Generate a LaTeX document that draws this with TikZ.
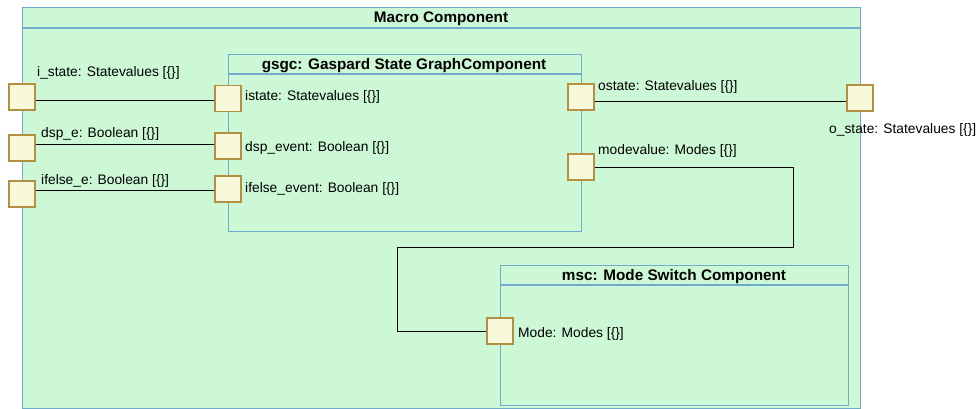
\documentclass[tikz,border=0pt]{standalone}
\usepackage{fontspec}
\setmainfont{Liberation Sans}
\usetikzlibrary{positioning}
\definecolor{compfill}{RGB}{204,248,214}
\definecolor{compdraw}{RGB}{112,170,204}
\definecolor{portfill}{RGB}{248,248,218}
\definecolor{portdraw}{RGB}{180,144,66}

\begin{document}
\begin{tikzpicture}[x=1pt,y=-1pt,
        comp/.style={draw=compdraw,fill=compfill,line width=1.1pt,anchor=north west,inner sep=0pt},
        head/.style={draw=compdraw,line width=1.1pt},
        title/.style={font=\fontsize{15.3}{18}\selectfont\bfseries,inner sep=0pt,anchor=base},
        port/.style={draw=portdraw,fill=portfill,line width=1.1pt,minimum size=26pt,inner sep=0pt},
        lbl/.style={font=\fontsize{13.8}{16}\selectfont,inner sep=0pt,anchor=base west},
        wire/.style={draw=black,line width=0.9pt}]

  \useasboundingbox (0,0) rectangle (979,409);

  \node[comp,minimum width=838,minimum height=401] (macro) at (22,7) {};
  \draw[head] (22,28) -- (860,28);
  \node[title] (macro title) at (441,23) {Macro Component};

  \node[comp,minimum width=353,minimum height=177] (gsgc) at (228,54) {};
  \draw[head] (228,74) -- (581,74);
  \node[title] (gsgc title) at (404,69.5) {gsgc: Gaspard State GraphComponent};

  \node[comp,minimum width=348,minimum height=140] (msc) at (500,265) {};
  \draw[head] (500,285) -- (848,285);
  \node[title] (msc title) at (674,280.5) {msc: Mode Switch Component};

  \node[port] (i state)   at (22,97)  {};
  \node[port] (dsp e)     at (22,148) {};
  \node[port] (ifelse e)  at (22,194) {};
  \node[port] (istate)    at (228,98.5) {};
  \node[port] (dsp event) at (228,146) {};
  \node[port] (ifelse event) at (228,189) {};
  \node[port] (ostate)    at (581,97) {};
  \node[port] (modevalue) at (581,167) {};
  \node[port] (o state)   at (860,98) {};
  \node[port] (mode)      at (500,331) {};

  \node[lbl] (i state lbl)   at (37,77)  {i\_state: Statevalues [\{\}]};
  \node[lbl] (dsp e lbl)     at (41,137) {dsp\_e: Boolean [\{\}]};
  \node[lbl] (ifelse e lbl)  at (41,184) {ifelse\_e: Boolean [\{\}]};
  \node[lbl] (istate lbl)    at (245,101) {istate: Statevalues [\{\}]};
  \node[lbl] (dsp event lbl) at (245,151) {dsp\_event: Boolean [\{\}]};
  \node[lbl] (ifelse event lbl) at (245,192) {ifelse\_event: Boolean [\{\}]};
  \node[lbl] (ostate lbl)    at (598,91)  {ostate: Statevalues [\{\}]};
  \node[lbl] (modevalue lbl) at (598,154) {modevalue: Modes [\{\}]};
  \node[lbl] (o state lbl)   at (829,133) {o\_state: Statevalues [\{\}]};
  \node[lbl] (mode lbl)      at (518,337) {Mode: Modes [\{\}]};

  \coordinate (turn right) at (793.5,247.7);
  \coordinate (turn left)  at (397.3,247.7);

  \draw[wire] (i state.east |- 0,100) -- (istate.west |- 0,100);
  \draw[wire] (dsp e.east |- 0,144) -- (dsp event.west |- 0,144);
  \draw[wire] (ifelse e.east |- 0,190) -- (ifelse event.west |- 0,190);
  \draw[wire] (ostate.east |- 0,101.7) -- (o state.west |- 0,101.7);
  \draw[wire] (modevalue.east) -| (turn right) -- (turn left) |- (mode.west);
\end{tikzpicture}
\end{document}
